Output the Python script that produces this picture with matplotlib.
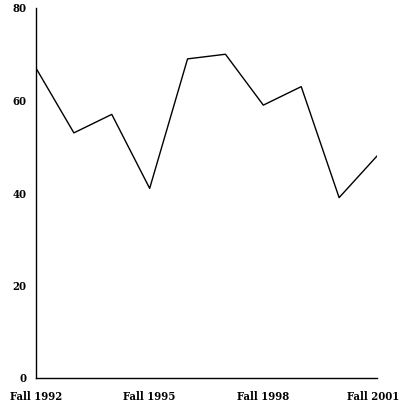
import matplotlib.pyplot as plt
from matplotlib.transforms import ScaledTranslation

terms = ["Fall 1992", "Fall 1993", "Fall 1994", "Fall 1995", "Fall 1996",
         "Fall 1997", "Fall 1998", "Fall 1999", "Fall 2000", "Fall 2001"]
values = [67, 53, 57, 41, 69, 70, 59, 63, 39, 48]
y_ticks = [0, 20, 40, 60, 80]

font = dict(family="DejaVu Serif", fontstretch="condensed", fontweight="bold", fontsize=8.1)

fig = plt.figure(figsize=(4.01, 4.08), dpi=100)
ax = fig.add_axes([36 / 401, 1 - 378 / 408, 341 / 401, 370 / 408])

ax.plot(range(len(values)), values, color="black", linewidth=1.0)

ax.set_xlim(0, len(values) - 1)
ax.set_ylim(0, 80)
ax.set_xticks(range(0, len(terms), 3))
ax.set_xticklabels(terms[::3], **font)
ax.set_yticks(y_ticks)
ax.set_yticklabels([str(v) for v in y_ticks], **font)
ax.tick_params(length=0)
ax.tick_params(axis="y", pad=7)
ax.tick_params(axis="x", pad=9.5)

# nudge the last label so it stays inside the figure
last = ax.get_xticklabels()[-1]
last.set_transform(last.get_transform() + ScaledTranslation(-4 / 100, 0, fig.dpi_scale_trans))

for side in ["top", "right"]:
    ax.spines[side].set_visible(False)
for side in ["left", "bottom"]:
    ax.spines[side].set_linewidth(1.0)

fig.savefig("out.png", dpi=100)
